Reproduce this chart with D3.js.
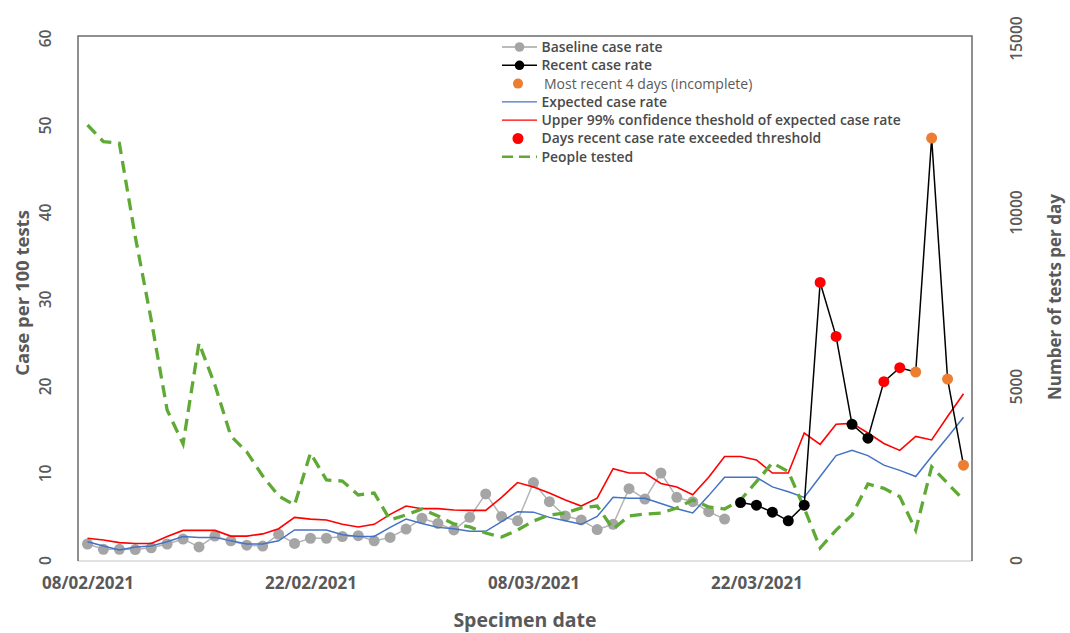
<!DOCTYPE html>
<html>
<head>
<meta charset="utf-8">
<script src="https://cdn.jsdelivr.net/npm/d3@7"></script>
<style>
  html, body { margin: 0; padding: 0; background: #fff; }
  svg { display: block; font-family: "Open Sans", sans-serif; }
</style>
</head>
<body>
<svg id="chart" width="1070" height="633"></svg>
<script>
// Daily specimen dates, 08/02/2021 to 04/04/2021
const startDate = new Date(2021, 1, 8);
const endDate = new Date(2021, 3, 5);
const days = d3.timeDay.range(startDate, endDate);

const tickDates = [new Date(2021, 1, 8), new Date(2021, 1, 22), new Date(2021, 2, 8), new Date(2021, 2, 22)];
const leftTicks = [0, 10, 20, 30, 40, 50, 60];
const rightTicks = [0, 5000, 10000, 15000];

// Baseline case rate (cases per 100 tests), first 41 days
const baselineRate = [1.84, 1.23, 1.23, 1.2, 1.4, 1.84, 2.4, 1.5, 2.75, 2.2, 1.7, 1.6, 2.95, 1.9,
  2.5, 2.5, 2.7, 2.8, 2.2, 2.6, 3.56, 4.8, 4.2, 3.45, 4.9, 7.6, 5.0, 4.5, 8.9, 6.7,
  5.06, 4.6, 3.5, 4.1, 8.2, 7.0, 10.0, 7.2, 6.7, 5.55, 4.7];

// Recent case rate, last 15 days
const recentRate = [6.6, 6.3, 5.5, 4.5, 6.3, 31.9, 25.7, 15.6, 14.0, 20.5, 22.1, 21.6, 48.5, 20.8, 10.9];
// day status for the recent days: "n" normal, "x" exceeded threshold, "i" incomplete
const recentStatus = ["n", "n", "n", "n", "n", "x", "x", "n", "n", "x", "x", "i", "i", "i", "i"];

// Expected case rate
const expectedRate = [2.1, 1.6, 1.15, 1.5, 1.6, 2.1, 2.7, 2.6, 2.6, 2.2, 1.85, 1.85, 2.2, 3.45,
  3.45, 3.45, 2.9, 2.7, 2.7, 3.75, 4.7, 4.2, 3.75, 3.6, 3.3, 3.3, 4.4, 5.55,
  5.5, 4.9, 4.5, 4.1, 5.0, 7.2, 7.1, 7.1, 6.5, 5.9, 5.4, 7.4, 9.5, 9.5,
  9.5, 8.4, 7.85, 7.2, 9.6, 12.0, 12.6, 12.0, 10.9, 10.3, 9.6, 11.9, 14.1, 16.4];

// Upper 99% confidence threshold of expected case rate
const upperThreshold = [2.5, 2.3, 2.0, 1.9, 1.9, 2.7, 3.4, 3.4, 3.4, 2.75, 2.75, 3.0, 3.6, 4.9,
  4.7, 4.6, 4.1, 3.8, 4.1, 5.25, 6.2, 5.9, 5.9, 5.75, 5.7, 5.7, 7.2, 8.9,
  8.4, 7.7, 6.9, 6.2, 7.1, 10.5, 10.0, 10.0, 8.8, 8.4, 7.5, 9.5, 11.9, 11.9,
  11.5, 10.0, 10.0, 14.6, 13.3, 15.6, 15.7, 14.6, 13.4, 12.6, 14.2, 13.8, 16.5, 19.1];

// People tested per day
const peopleTested = [12500, 12020, 11975, 9290, 6900, 4310, 3335, 6235, 5030, 3565, 3105, 2415, 1840, 1580,
  3075, 2300, 2270, 1870, 1925, 1150, 1295, 1465, 1265, 1035, 950, 775, 660, 860,
  1120, 1295, 1350, 1495, 1550, 890, 1265, 1320, 1350, 1495, 1725, 1525, 1465, 1725,
  2250, 2790, 2540, 1490, 345, 860, 1295, 2185, 2060, 1820, 860, 2680, 2205, 1725];

const legendItems = [
  "Baseline case rate",
  "Recent case rate",
  "Most recent 4 days (incomplete)",
  "Expected case rate",
  "Upper 99% confidence theshold of expected case rate",
  "Days recent case rate exceeded threshold",
  "People tested"
];

const colors = {
  baseline: "#a5a5a5",
  recent: "#000000",
  incomplete: "#ed7d31",
  expected: "#4472c4",
  threshold: "#ff0000",
  exceeded: "#ff0000",
  tested: "#5fa935",
  text: "#595959"
};

const svg = d3.select("#chart");
const plot = { left: 78, right: 972, top: 36, bottom: 561 };

const x = d3.scaleTime()
  .domain([days[0], days[days.length - 1]])
  .range([87.5, 963.5]);
const yL = d3.scaleLinear().domain([0, 60]).range([560, 38]);
const yR = d3.scaleLinear().domain([0, 15000]).range([560, 38]);

// plot frame
svg.append("line").attr("x1", plot.left).attr("x2", plot.right).attr("y1", plot.bottom).attr("y2", plot.bottom)
  .attr("stroke", "#d9d9d9").attr("stroke-width", 1.5);
svg.append("path")
  .attr("d", `M${plot.left},${plot.bottom}V${plot.top}H${plot.right}V${plot.bottom}`)
  .attr("fill", "none").attr("stroke", "#6b6b6b").attr("stroke-width", 1.5);

// value axes: labels only, written vertically
function styleValueLabels(sel) {
  sel.select(".domain").remove();
  sel.selectAll("text")
    .attr("x", 0).attr("y", 0).attr("dy", "0.36em")
    .attr("transform", "rotate(-90)")
    .attr("text-anchor", "middle")
    .style("font-family", "Open Sans").style("font-size", "15.5px").style("font-weight", 600)
    .attr("fill", colors.text);
}
svg.append("g").attr("transform", "translate(45,0)")
  .call(d3.axisLeft(yL).tickValues(leftTicks).tickSize(0).tickPadding(0))
  .call(styleValueLabels);
svg.append("g").attr("transform", "translate(1016,0)")
  .call(d3.axisRight(yR).tickValues(rightTicks).tickSize(0).tickPadding(0).tickFormat(d3.format("d")))
  .call(styleValueLabels);

const bottomAxis = svg.append("g").attr("transform", "translate(0,577)")
  .call(d3.axisBottom(x).tickValues(tickDates).tickSize(0).tickPadding(0).tickFormat(d3.timeFormat("%d/%m/%Y")));
bottomAxis.select(".domain").remove();
bottomAxis.selectAll("text")
  .attr("dy", "0.71em")
  .style("font-family", "Open Sans").style("font-size", "17px").style("font-weight", 700)
  .attr("fill", colors.text);

// axis titles
svg.append("text").attr("transform", "translate(22,293) rotate(-90)")
  .attr("text-anchor", "middle").attr("dy", "0.36em").attr("fill", colors.text)
  .style("font-size", "18.5px").style("font-weight", 700).text("Case per 100 tests");
svg.append("text").attr("transform", "translate(1055,297) rotate(-90)")
  .attr("text-anchor", "middle").attr("dy", "0.36em").attr("fill", colors.text)
  .style("font-size", "17px").style("font-weight", 700).text("Number of tests per day");
svg.append("text").attr("x", 525).attr("y", 627)
  .attr("text-anchor", "middle").attr("fill", colors.text)
  .style("font-size", "19.5px").style("font-weight", 700).text("Specimen date");

// series
const baselineData = baselineRate.map((v, i) => ({ d: days[i], v }));
const offset = days.length - recentRate.length;
const recentData = recentRate.map((v, i) => ({ d: days[offset + i], v, s: recentStatus[i] }));
const expectedData = expectedRate.map((v, i) => ({ d: days[i], v }));
const thresholdData = upperThreshold.map((v, i) => ({ d: days[i], v }));
const testedData = peopleTested.map((v, i) => ({ d: days[i], v }));

const lineL = d3.line().x(p => x(p.d)).y(p => yL(p.v));
const lineR = d3.line().x(p => x(p.d)).y(p => yR(p.v));

const g = svg.append("g");

g.append("path").datum(baselineData).attr("d", lineL)
  .attr("fill", "none").attr("stroke", "#b4b4b4").attr("stroke-width", 1.5);
g.selectAll("circle.base").data(baselineData).join("circle").attr("class", "base")
  .attr("cx", p => x(p.d)).attr("cy", p => yL(p.v)).attr("r", 5.5).attr("fill", colors.baseline);

g.append("path").datum(expectedData).attr("d", lineL)
  .attr("fill", "none").attr("stroke", colors.expected).attr("stroke-width", 1.5);
g.append("path").datum(thresholdData).attr("d", lineL)
  .attr("fill", "none").attr("stroke", colors.threshold).attr("stroke-width", 1.6);

g.append("path").datum(testedData).attr("d", lineR)
  .attr("fill", "none").attr("stroke", colors.tested).attr("stroke-width", 3.3)
  .attr("stroke-dasharray", "12,7");

g.append("path").datum(recentData).attr("d", lineL)
  .attr("fill", "none").attr("stroke", colors.recent).attr("stroke-width", 1.5);
g.selectAll("circle.recent").data(recentData).join("circle").attr("class", "recent")
  .attr("cx", p => x(p.d)).attr("cy", p => yL(p.v)).attr("r", 5.5)
  .attr("fill", p => p.s === "x" ? colors.exceeded : p.s === "i" ? colors.incomplete : colors.recent);

// legend
const lg = svg.append("g");
const rowY = i => 47 + i * 18.3;
const textX = 541.5;
legendItems.forEach((label, i) => {
  const yy = rowY(i);
  if (i === 0 || i === 1) {
    lg.append("line").attr("x1", 502).attr("x2", 537).attr("y1", yy).attr("y2", yy)
      .attr("stroke", i === 0 ? colors.baseline : colors.recent).attr("stroke-width", 1.5);
    lg.append("circle").attr("cx", 519.5).attr("cy", yy).attr("r", 4.8)
      .attr("fill", i === 0 ? colors.baseline : colors.recent);
  } else if (i === 2) {
    lg.append("circle").attr("cx", 518).attr("cy", yy).attr("r", 5).attr("fill", colors.incomplete);
  } else if (i === 3 || i === 4) {
    lg.append("line").attr("x1", 502).attr("x2", 537).attr("y1", yy).attr("y2", yy)
      .attr("stroke", i === 3 ? colors.expected : colors.threshold).attr("stroke-width", 1.3);
  } else if (i === 5) {
    lg.append("circle").attr("cx", 518).attr("cy", yy).attr("r", 5.5).attr("fill", colors.exceeded);
  } else {
    lg.append("line").attr("x1", 502).attr("x2", 537).attr("y1", yy).attr("y2", yy)
      .attr("stroke", colors.tested).attr("stroke-width", 2.5).attr("stroke-dasharray", "11,6");
  }
  lg.append("text").attr("x", i === 2 ? 544 : textX).attr("y", yy).attr("dy", "0.35em")
    .attr("fill", i === 2 ? "#5a5a5a" : "#4a4a4a")
    .style("font-size", i === 2 ? "14px" : "13.9px").style("font-weight", i === 2 ? 400 : 600)
    .text(label);
});
</script>
</body>
</html>
